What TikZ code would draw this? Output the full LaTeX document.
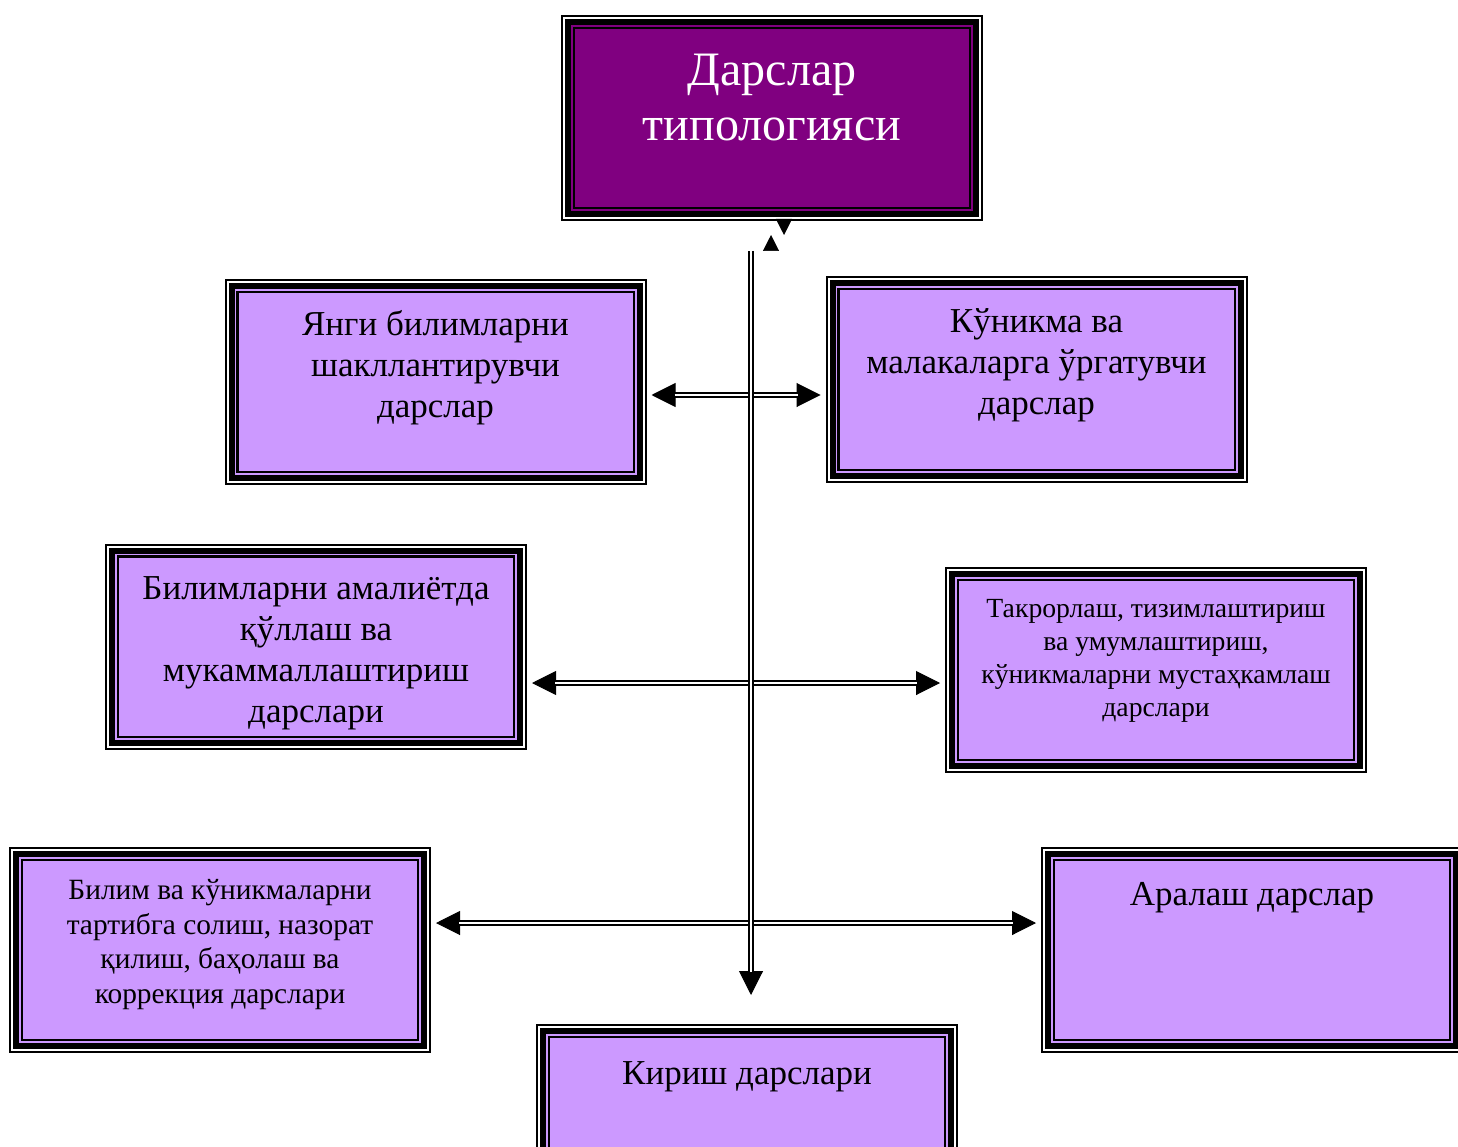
\documentclass[tikz,border=0pt]{standalone}
\usepackage{fontspec}
\setmainfont{Liberation Serif}
\usetikzlibrary{positioning}
\usetikzlibrary{arrows.meta}
\definecolor{titleColor}{RGB}{128,0,128}
\definecolor{boxColor}{RGB}{204,153,255}

\begin{document}
\begin{tikzpicture}[x=1pt,y=-1pt]

          \tikzstyle{outerFrame} = [inner sep=0pt, outer sep=19pt, minimum width=394pt, minimum height=178pt,
            preaction={draw=black,line width=28pt},
            preaction={draw=white,line width=24pt},
            preaction={draw=black,line width=20pt}];
          \tikzstyle{titleBox} = [outerFrame, preaction={draw=titleColor,line width=8pt},
            preaction={draw=black,line width=4.6pt}, fill=titleColor];
          \tikzstyle{lessonBox} = [outerFrame, preaction={draw=boxColor,line width=8pt},
            preaction={draw=black,line width=4.6pt}, fill=boxColor];
          \tikzstyle{titleText} = [text=white, align=center, inner sep=0pt, font=\fontsize{48}{55}\selectfont];
          \tikzstyle{bigText} = [align=center, inner sep=0pt, font=\fontsize{35}{41}\selectfont];
          \tikzstyle{smallText} = [align=center, inner sep=0pt, font=\fontsize{29.4}{34.5}\selectfont];
          \tikzstyle{tinyText} = [align=center, inner sep=0pt, font=\fontsize{27.7}{33}\selectfont];
          \tikzstyle{dblLine} = [draw=black, double=white, double distance=2.5pt, line width=2.2pt];
          \tikzstyle{bothTips} = [draw=white, line width=1pt,
            {Triangle[length=24pt,width=24pt,color=black,fill=black]}-{Triangle[length=24pt,width=24pt,color=black,fill=black]}];
          \tikzstyle{endTip} = [draw=white, line width=1pt, -{Triangle[length=24pt,width=24pt,color=black,fill=black]}];
          \tikzstyle{smallTip} = [draw=white, line width=0.5pt, -{Triangle[length=16pt,width=16pt,color=black,fill=black]}];

          \useasboundingbox (0,0) rectangle (1458,1147);

          \node[titleBox] (bT) at (772,118) {};
          \node[lessonBox] (bA) at (435.5,382) {};
          \node[lessonBox] (bB) at (1036.5,379.5) {};
          \node[lessonBox] (bC) at (316,646.5) {};
          \node[lessonBox] (bD) at (1156,670) {};
          \node[lessonBox] (bE) at (220,950) {};
          \node[lessonBox] (bF) at (1252,950) {};
          \node[lessonBox] (bG) at (747,1127) {};

          \node[titleText, below=44pt of bT.north] (tT) {Дарслар\\типологияси};
          \node[bigText, below=36.5pt of bA.north] (tA) {Янги билимларни\\шакллантирувчи\\дарслар};
          \node[bigText, below=36.5pt of bB.north] (tB) {Кўникма ва\\малакаларга ўргатувчи\\дарслар};
          \node[bigText, below=37.5pt of bC.north] (tC) {Билимларни амалиётда\\қўллаш ва\\мукаммаллаштириш\\дарслари};
          \node[tinyText, below=37pt of bD.north] (tD) {Такрорлаш, тизимлаштириш\\ва умумлаштириш,\\кўникмаларни мустаҳкамлаш\\дарслари};
          \node[smallText, below=37.3pt of bE.north] (tE) {Билим ва кўникмаларни\\тартибга солиш, назорат\\қилиш, баҳолаш ва\\коррекция дарслари};
          \node[bigText, below=40.5pt of bF.north] (tF) {Аралаш дарслар};
          \node[bigText, below=42.5pt of bG.north] (tG) {Кириш дарслари};

          \coordinate (top) at (751,251);
          \coordinate (bot) at (751,995);
          \coordinate (r1) at (751,395);
          \coordinate (r2) at (751,683);
          \coordinate (r3) at (751,923);
          \coordinate (dn1) at (784,219);
          \coordinate (dn2) at (784,235);
          \coordinate (up1) at (771,252);
          \coordinate (up2) at (771,235);

          \draw[bothTips] (bA.east |- r1) -- (bB.west |- r1);
          \draw[bothTips] (bC.east |- r2) -- (bD.west |- r2);
          \draw[bothTips] (bE.east |- r3) -- (bF.west |- r3);
          \draw[endTip] (top) -- (bot);
          \draw[smallTip] (dn1) -- (dn2);
          \draw[smallTip] (up1) -- (up2);
          \draw[dblLine, shorten <=23pt, shorten >=23pt] (bA.east |- r1) -- (bB.west |- r1);
          \draw[dblLine, shorten <=23pt, shorten >=23pt] (bC.east |- r2) -- (bD.west |- r2);
          \draw[dblLine, shorten <=23pt, shorten >=23pt] (bE.east |- r3) -- (bF.west |- r3);
          \draw[dblLine, shorten >=23pt] (top) -- (bot);
        \end{tikzpicture}
\end{document}
